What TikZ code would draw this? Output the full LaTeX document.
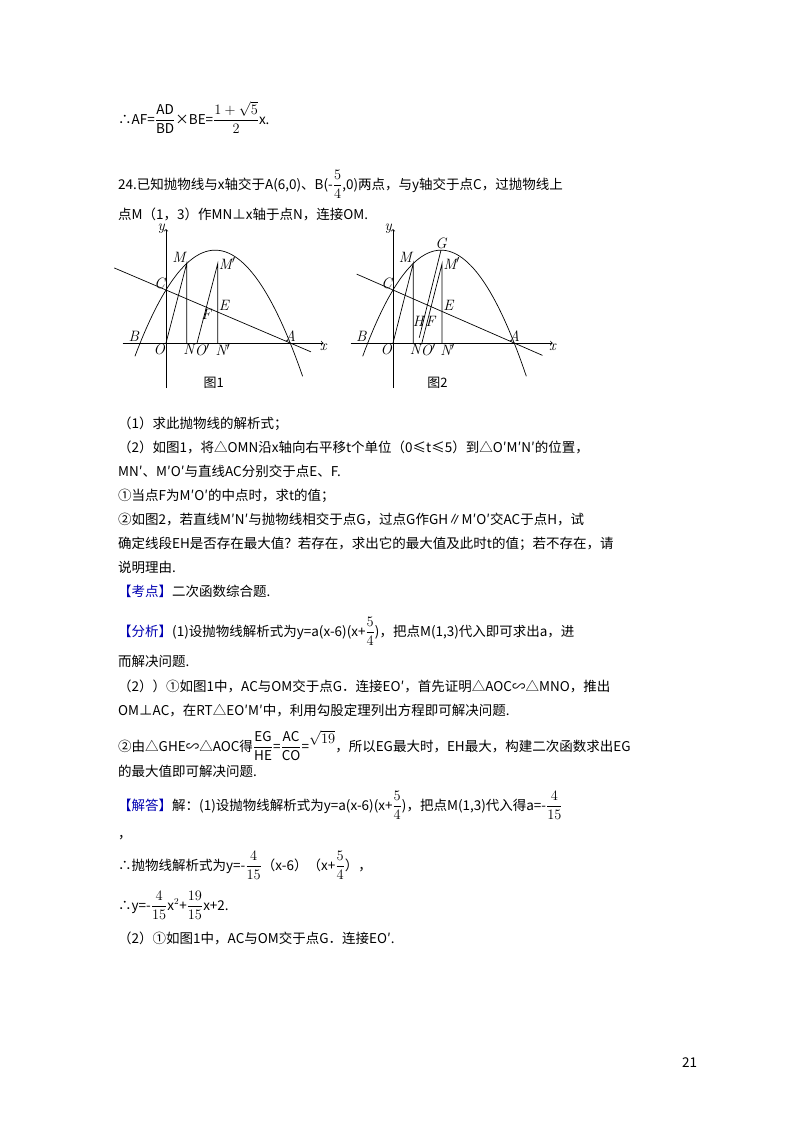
\documentclass[tikz,border=0pt]{standalone}
\usepackage{amsmath}
\usepackage{fontspec}
\setmainfont{Noto Sans CJK SC}
\newfontfamily\lmr{Latin Modern Roman}
\newcommand{\df}[2]{$\displaystyle\frac{#1}{#2}$}
\begin{document}
\begin{tikzpicture}[x=1pt,y=-1pt,
  txt/.style={anchor=base west,inner sep=0pt,font=\fontsize{13.5}{14}\selectfont},
  lbl/.style={font=\lmr\itshape\fontsize{15}{15}\selectfont,inner sep=1pt},
  ln/.style={line width=0.7pt}]
\useasboundingbox (0,0) rectangle (800,1132);
\fill[white] (0,0) rectangle (800,1132);
\def\kd{\textcolor{blue!70!black}}
\node[txt] (l1) at (118,124) {∴AF=\df{\mathrm{AD}}{\mathrm{BD}}×BE=\df{1+\sqrt5}{2}x.};
\node[txt] (l2) at (118,189) {24.已知抛物线与x轴交于A(6,0)、B(-\df54,0)两点，与y轴交于点C，过抛物线上};
\node[txt] (l3) at (118,219) {点M（1，3）作MN⊥x轴于点N，连接OM.};
% figure 1
\begin{scope}[shift={(166,343)},x=20.7pt,y=26.5pt]
 \draw[ln,->] (-2.1,0) -- (7.6,0) node[lbl,below] (x1) {x};
 \draw[ln,->] (0,-1.7) -- (0,4.3) node[lbl,left] (y1) {y};
 \draw[ln] plot[domain=-1.5:6.6,samples=60,smooth] (\x,{-4/15*(\x-6)*(\x+1.25)});
 \draw[ln] (-2.5,2.833) -- (7,-0.333);
 \draw[ln] (0,0) -- (1,3) -- (1,0);
 \draw[ln] (1.5,0) -- (2.5,3) -- (2.5,0);
 \node[lbl,above left] (M1) at (1,3) {M};
 \node[lbl,right] (Mp1) at (2.5,3) {M$'$};
 \node[lbl,above left] (C1) at (0,2) {C};
 \node[lbl,above left] (B1) at (-1.25,0) {B};
 \node[lbl,above] (A1) at (6,0) {A};
 \node[lbl,below left] (O1) at (0,0) {O};
 \node[lbl,below] (N1) at (1.1,0) {N};
 \node[lbl,below] (Op1) at (1.75,0) {O$'$};
 \node[lbl,below] (Np1) at (2.75,0) {N$'$};
 \node[lbl,above right] (E1) at (2.5,1.17) {E};
 \node[lbl,below] (F1) at (1.95,1.3) {F};
 \node[font=\fontsize{13}{13}\selectfont] (c1) at (2.3,-1.5) {图1};
\end{scope}
% figure 2
\begin{scope}[shift={(393,343)},x=20.2pt,y=26.5pt]
 \draw[ln,->] (-2.1,0) -- (7.9,0) node[lbl,below] (x2) {x};
 \draw[ln,->] (0,-1.7) -- (0,4.3) node[lbl,left] (y2) {y};
 \draw[ln] plot[domain=-1.5:6.6,samples=60,smooth] (\x,{-4/15*(\x-6)*(\x+1.25)});
 \draw[ln] (-1.8,2.6) -- (7.4,-0.467);
 \draw[ln] (0,0) -- (1,3) -- (1,0);
 \draw[ln] (1.43,0) -- (2.43,3) -- (2.43,0);
 \draw[ln] (2.375,3.504) -- (1.3,0.2);
 \node[lbl,above] (G2) at (2.375,3.504) {G};
 \node[lbl,above left] (M2) at (1,3) {M};
 \node[lbl,right] (Mp2) at (2.43,3) {M$'$};
 \node[lbl,above left] (C2) at (0,2) {C};
 \node[lbl,above left] (B2) at (-1.25,0) {B};
 \node[lbl,above] (A2) at (6,0) {A};
 \node[lbl,below left] (O2) at (0,0) {O};
 \node[lbl,below] (N2) at (1.1,0) {N};
 \node[lbl,below] (Op2) at (1.75,0) {O$'$};
 \node[lbl,below] (Np2) at (2.7,0) {N$'$};
 \node[lbl,above right] (E2) at (2.43,1.19) {E};
 \node[lbl] (H2) at (1.25,0.8) {H};
 \node[lbl] (F2) at (1.85,0.8) {F};
 \node[font=\fontsize{13}{13}\selectfont] (c2) at (2.2,-1.5) {图2};
\end{scope}
\node[txt] (t1) at (118,428) {（1）求此抛物线的解析式；};
\node[txt] (t2) at (118,452) {（2）如图1，将△OMN沿x轴向右平移t个单位（0≤t≤5）到△O′M′N′的位置，};
\node[txt] (t3) at (118,476) {MN′、M′O′与直线AC分别交于点E、F.};
\node[txt] (t4) at (118,500) {①当点F为M′O′的中点时，求t的值；};
\node[txt] (t5) at (118,524) {②如图2，若直线M′N′与抛物线相交于点G，过点G作GH∥M′O′交AC于点H，试};
\node[txt] (t6) at (118,548) {确定线段EH是否存在最大值？若存在，求出它的最大值及此时t的值；若不存在，请};
\node[txt] (t7) at (118,572) {说明理由.};
\node[txt] (t8) at (118,596) {\kd{【考点】}二次函数综合题.};
\node[txt] (t9) at (118,636) {\kd{【分析】}(1)设抛物线解析式为y=a(x-6)(x+\df54)，把点M(1,3)代入即可求出a，进};
\node[txt] (t10) at (118,666) {而解决问题.};
\node[txt] (t11) at (118,691) {（2））①如图1中，AC与OM交于点G．连接EO′，首先证明△AOC∽△MNO，推出};
\node[txt] (t12) at (118,715) {OM⊥AC，在RT△EO′M′中，利用勾股定理列出方程即可解决问题.};
\node[txt] (t13) at (118,751) {②由△GHE∽△AOC得\df{\mathrm{EG}}{\mathrm{HE}}=\df{\mathrm{AC}}{\mathrm{CO}}=\raisebox{8pt}{$\sqrt{19}$}，所以EG最大时，EH最大，构建二次函数求出EG};
\node[txt] (t14) at (118,776) {的最大值即可解决问题.};
\node[txt] (t15) at (118,810) {\kd{【解答】}解：(1)设抛物线解析式为y=a(x-6)(x+\df54)，把点M(1,3)代入得a=-\df{4}{15}};
\node[txt] (t16) at (118,838) {，};
\node[txt] (t17) at (118,870) {∴抛物线解析式为y=-\df{4}{15}（x-6）（x+\df54），};
\node[txt] (t18) at (118,910) {∴y=-\df{4}{15}x$^2$+\df{19}{15}x+2.};
\node[txt] (t19) at (118,943) {（2）①如图1中，AC与OM交于点G．连接EO′.};
\node[txt] (pg) at (682,1067) {21};
\end{tikzpicture}
\end{document}
